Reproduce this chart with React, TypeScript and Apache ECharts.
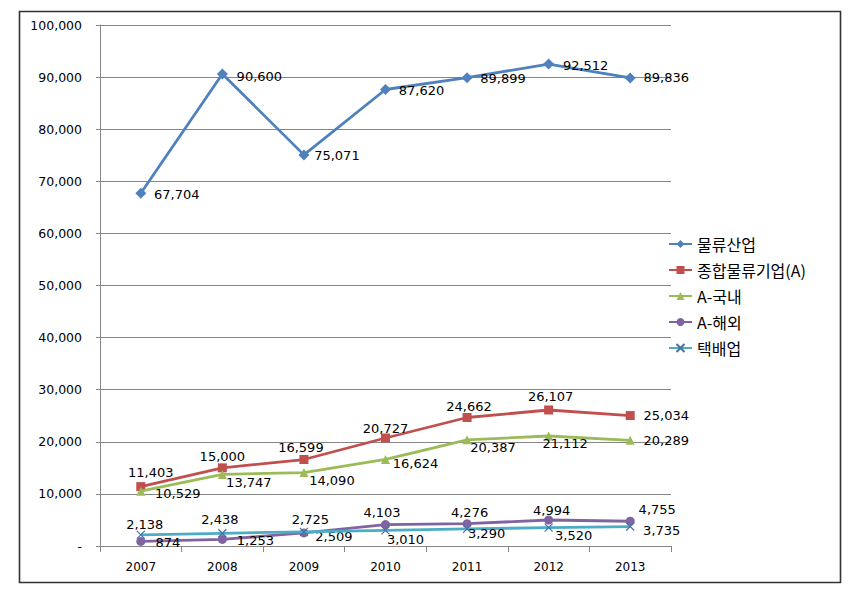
import React, { useEffect, useRef } from "react";
import * as echarts from "echarts";

const years = ["2007", "2008", "2009", "2010", "2011", "2012", "2013"];
const seriesNames = ["물류산업", "종합물류기업(A)", "A-국내", "A-해외", "택배업"];
const logistics = [67704, 90600, 75071, 87620, 89899, 92512, 89836];
const integrated = [11403, 15000, 16599, 20727, 24662, 26107, 25034];
const domestic = [10529, 13747, 14090, 16624, 20387, 21112, 20289];
const overseas = [874, 1253, 2509, 4103, 4276, 4994, 4755];
const parcel = [2138, 2438, 2725, 3010, 3290, 3520, 3735];
const yTicks = { min: 0, max: 100000, interval: 10000 };

// label centre offsets (px) relative to each point
const labelOffsets: [number, number][][] = [
  [[36, 1], [37, 3], [33, 1], [36, 1], [36, 1], [37, 1], [36, 0]],
  [[10, -14], [0, -11], [-3, -12.5], [0, -10], [2, -11], [2, -13], [36, 0]],
  [[37, 2], [26.5, 8], [28, 8], [30, 4], [26, 8], [16.5, 7], [36, 0]],
  [[27, 1], [33, 1.5], [30, 4], [-3.5, -12], [2.5, -11], [3, -9], [27, -12]],
  [[4, -10.5], [-2.5, -14], [6.5, -12.5], [20, 9], [19.5, 5], [25, 8], [31.5, 4]],
];

const colors = ["#4F81BD", "#C0504D", "#9BBB59", "#8064A2", "#4BACC6"];
const symbols = ["diamond", "rect", "triangle", "circle", "path://M0,0L10,10M10,0L0,10"];
const symbolSizes = [11, 9, 9, 9, 8];

const fmt = (v: number) => (v === 0 ? "-" : v.toLocaleString("en-US"));

export default function App() {
  const ref = useRef<HTMLDivElement>(null);
  useEffect(() => {
    if (!ref.current) return;
    const chart = echarts.init(ref.current, null, { renderer: "svg" });
    const all = [logistics, integrated, domestic, overseas, parcel];
    const series = all.map((vals, si) => ({
      name: seriesNames[si],
      type: "line",
      data: vals.map((v, i) => ({
        value: v,
        label: { offset: labelOffsets[si][i] },
      })),
      symbol: symbols[si],
      symbolSize: symbolSizes[si],
      lineStyle: { color: colors[si], width: 2.8 },
      itemStyle:
        si === 4
          ? { color: colors[si], borderColor: "#4A6FA5", borderWidth: 1.2 }
          : { color: colors[si] },
      label: {
        show: true,
        position: "inside",
        align: "center",
        verticalAlign: "middle",
        color: "#000",
        fontFamily: "DejaVu Sans",
        fontSize: 13,
        textBorderWidth: 0,
        formatter: (p: any) => fmt(p.value),
      },
      z: 2 + si,
    }));
    chart.setOption({
      animation: false,
      backgroundColor: "#fff",
      grid: { left: 100, right: 193, top: 25, bottom: 45, containLabel: false },
      xAxis: {
        type: "category",
        data: years,
        boundaryGap: true,
        axisLine: { show: true, lineStyle: { color: "#868686", width: 1 } },
        axisTick: { show: true, length: 6, lineStyle: { color: "#868686" } },
        axisLabel: { color: "#000", fontFamily: "DejaVu Sans", fontSize: 12, margin: 15 },
        splitLine: { show: false },
      },
      yAxis: {
        type: "value",
        min: yTicks.min,
        max: yTicks.max,
        interval: yTicks.interval,
        axisLine: { show: true, lineStyle: { color: "#868686", width: 1 } },
        axisTick: { show: true, length: 4, lineStyle: { color: "#868686" } },
        axisLabel: {
          color: "#000",
          fontFamily: "DejaVu Sans",
          fontSize: 12.5,
          margin: 18,
          formatter: (v: number) => fmt(v),
        },
        splitLine: { show: true, lineStyle: { color: "#868686", width: 1 } },
      },
      legend: {
        orient: "vertical",
        left: 663,
        top: 231,
        itemWidth: 23,
        itemHeight: 10,
        itemGap: 10,
        data: seriesNames,
        textStyle: {
          fontFamily: "Noto Sans CJK KR",
          fontSize: 16,
          color: "#000",
          lineHeight: 16,
        },
      },
      graphic: [
        {
          type: "rect",
          shape: { x: 19.5, y: 11.5, width: 821, height: 571 },
          style: { fill: "none", stroke: "#333", lineWidth: 1.6 },
          silent: true,
          z: 100,
        },
      ],
      series,
    });
    return () => chart.dispose();
  }, []);
  return (
    <div
      ref={ref}
      style={{ position: "fixed", left: 0, top: 0, width: 864, height: 591 }}
    />
  );
}
